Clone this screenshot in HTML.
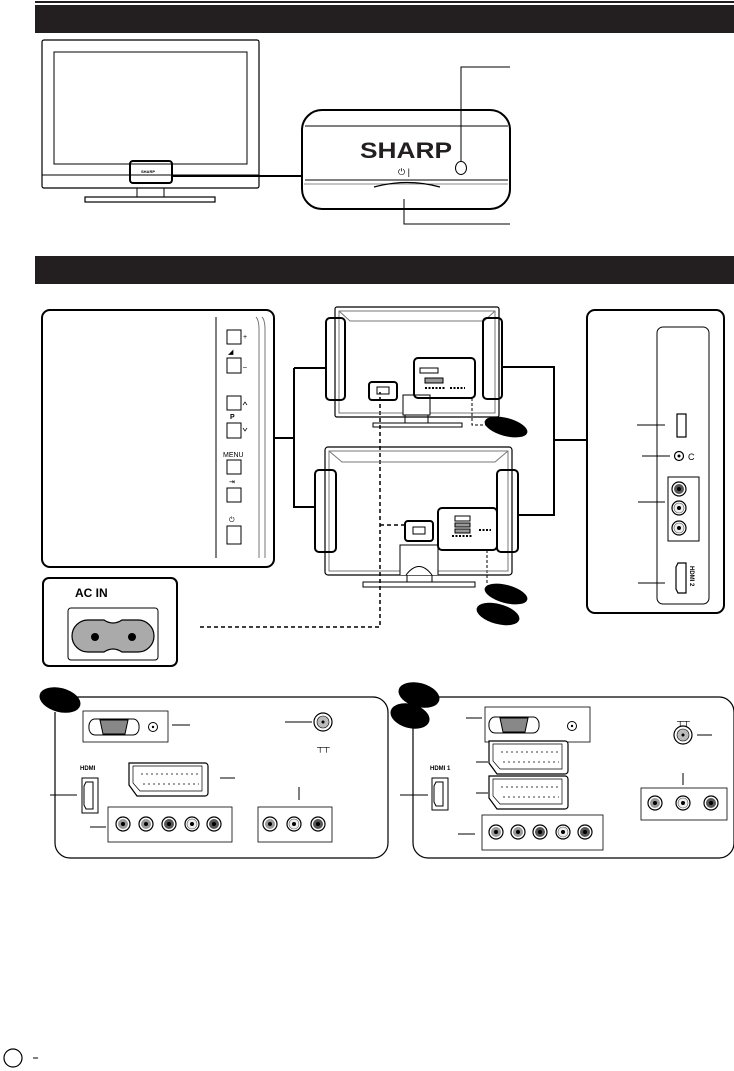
<!DOCTYPE html>
<html><head><meta charset="utf-8"><style>
html,body{margin:0;padding:0;background:#fff}
svg{display:block}
text{font-family:"Liberation Sans",sans-serif}
</style></head><body>
<svg width="734" height="1071" viewBox="0 0 734 1071" xmlns="http://www.w3.org/2000/svg">
<defs>
<g id="rca"><circle r="7" fill="#fff" stroke="#000" stroke-width="1.2"/><circle r="5" fill="#999"/><circle r="2" fill="#000"/></g>
<g id="rcad"><circle r="7" fill="#fff" stroke="#000" stroke-width="1.2"/><circle r="5" fill="#555"/><circle r="2" fill="#000"/></g>
<g id="rcaw"><circle r="7" fill="#fff" stroke="#000" stroke-width="1.2"/><circle r="5" fill="#eee" stroke="#555" stroke-width=".6"/><circle r="2" fill="#000"/></g>
<g id="scart"><path d="M0,0 H76 a3,3 0 0 1 3,3 V30 a3,3 0 0 1 -3,3 H8 L0,22 Z" fill="#fff" stroke="#000" stroke-width="1.2"/><path d="M4,3 H73 V28 H11 L4,20 Z" fill="none" stroke="#000" stroke-width=".7"/>
<g fill="none" stroke="#000" stroke-width=".8"><path d="M12,11 h58 M14,21 h56" stroke-dasharray="2,3"/></g></g>
<g id="vga"><path d="M-25,0 a6,7 0 0 1 6,-8 H19 a6,7 0 0 1 6,8 a6,7 0 0 1 -6,8 H-19 a6,7 0 0 1 -6,-8Z" fill="#fff" stroke="#000"/><path d="M-14,-7 H14 L11,7 H-11Z" fill="#888" stroke="#000"/></g>
</defs>
<rect x="35" y="1" width="699" height="2" fill="#231f20"/>
<rect x="35" y="5" width="699" height="28" fill="#231f20"/>
<rect x="35" y="256" width="699" height="28" fill="#231f20"/>

<g fill="none" stroke="#000">
<rect x="42" y="40" width="217" height="148" rx="2" stroke-width="1.2"/>
<rect x="54" y="52" width="193" height="112" stroke-width="1"/>
<line x1="42" y1="175" x2="259" y2="175"/>
<path d="M137,188 V197 M164,188 V197"/>
<rect x="85" y="197" width="130" height="5" stroke-width="1.2"/>
<rect x="130" y="161" width="42" height="22" rx="3" stroke-width="2"/>
<line x1="172" y1="176" x2="302" y2="176" stroke-width="2"/>
<rect x="302" y="110" width="208" height="99" rx="20" stroke-width="2"/>
<line x1="305" y1="126" x2="508" y2="126"/>
<line x1="305" y1="180" x2="508" y2="180"/>
<line x1="304" y1="184" x2="508" y2="184" stroke="#888"/>
<path d="M374,187 Q407,178 440,187" stroke-width="1.2"/>
<ellipse cx="461" cy="168" rx="5.5" ry="6.5"/>
<path d="M461,162 V67 H510 M404,199 V224 H510"/>
</g>
<text x="141" y="173" font-size="4" font-weight="bold">SHARP</text>
<text x="360" y="158" font-size="22" font-weight="bold" fill="#231f20" textLength="92" lengthAdjust="spacingAndGlyphs">SHARP</text>
<text x="398" y="175" font-size="9">⏻ |</text>

<g fill="none" stroke="#000">
<rect x="42" y="310" width="232" height="257" rx="8" stroke-width="2"/>
<line x1="216" y1="317" x2="216" y2="558"/>
<path d="M256,317 Q259,320 259,330 V558 M262,317 Q265,320 265,330 V558" stroke="#777"/>
<rect x="227" y="330" width="14" height="14"/>
<rect x="227" y="358" width="14" height="15"/>
<rect x="227" y="396" width="14" height="14"/>
<rect x="227" y="423" width="14" height="15"/>
<rect x="227" y="460" width="14" height="14"/>
<rect x="227" y="488" width="14" height="14"/>
<rect x="227" y="526" width="14" height="18"/>
<path d="M243,405 l2,-3 l2,3 M243,428 l2,3 l2,-3" stroke-width=".7"/>
</g>
<g font-size="7">
<text x="243" y="339">+</text><text x="228" y="354" font-size="7">◢</text><text x="243" y="369">–</text>
<text x="230" y="419" font-weight="bold">P</text><text x="223" y="457" font-size="7">MENU</text>
<text x="229" y="484">⇥</text><text x="229" y="522">⏻</text>
</g>

<rect x="43" y="578" width="134" height="88" rx="6" fill="none" stroke="#000" stroke-width="2"/>
<text x="75" y="597" font-size="12" font-weight="bold">AC IN</text>
<rect x="68" y="608" width="90" height="52" rx="3" fill="none" stroke="#000"/>
<path d="M88,620 H104 Q113,626 122,620 H138 a16,16 0 0 1 0,32 H122 Q113,646 104,652 H88 a16,16 0 0 1 0,-32Z" fill="#aaa" stroke="#000" stroke-width="1.2"/>
<circle cx="95" cy="637" r="4" fill="#000"/><circle cx="132" cy="637" r="4" fill="#000"/>
<path d="M200,627 H380 V392 M380,525 H405" fill="none" stroke="#000" stroke-width="1.5" stroke-dasharray="4,3"/>

<g fill="none" stroke="#000">
<rect x="335" y="307" width="164" height="110" rx="2" stroke-width="1.2"/>
<path d="M339,311 H495 V413 H339Z M339,311 L350,321 H484 L495,311" stroke="#777"/>
<rect x="373" y="423" width="89" height="4"/>
<rect x="405" y="415" width="23" height="8"/>
<rect x="403" y="395" width="27" height="20" fill="#fff"/>
<rect x="326" y="318" width="19" height="82" rx="4" stroke-width="2"/>
<rect x="483" y="318" width="19" height="81" rx="4" stroke-width="2"/>
<rect x="414" y="358" width="61" height="40" rx="4" stroke-width="2"/>
<rect x="369" y="382" width="28" height="18" rx="3" stroke-width="2"/>
<rect x="377" y="387" width="12" height="7"/>
<rect x="420" y="368" width="18" height="5"/><rect x="425" y="378" width="18" height="5" fill="#999"/>
<path d="M425,388 h20 M450,388 h15" stroke-dasharray="2,1.5" stroke-width="2"/>
<path d="M294,368 H326 M294,368 V507 H315 M275,438 H294 M502,367 H554 V515 H517 M554,440 H587" stroke-width="2"/>
<path d="M472,398 V425 H487 M487,550 V585" stroke-dasharray="3,2"/>
</g>
<ellipse cx="506" cy="427" rx="22" ry="9" transform="rotate(15 506 427)" fill="#000"/>

<g fill="none" stroke="#000">
<rect x="325" y="447" width="187" height="128" rx="3" stroke-width="1.2"/>
<path d="M329,451 H508 V571 H329Z M329,451 L342,462 H495 L508,451" stroke="#777"/>
<rect x="363" y="582" width="112" height="5"/>
<rect x="407" y="575" width="25" height="7"/>
<path d="M400,575 V545 H438 V575" fill="#fff"/>
<path d="M406,575 Q419,558 432,575"/>
<rect x="315" y="470" width="21" height="82" rx="4" stroke-width="2"/>
<rect x="497" y="470" width="21" height="82" rx="4" stroke-width="2"/>
<rect x="438" y="508" width="59" height="42" rx="4" stroke-width="2"/>
<rect x="405" y="521" width="28" height="20" rx="3" stroke-width="2"/>
<rect x="413" y="527" width="12" height="7"/>
<rect x="455" y="516" width="15" height="5"/><rect x="455" y="523" width="15" height="4" fill="#999"/><rect x="455" y="529" width="15" height="4" fill="#999"/>
<path d="M452,536 h20 M479,530 h12" stroke-dasharray="2,1.5" stroke-width="2"/>
</g>
<ellipse cx="506" cy="594" rx="22" ry="9" transform="rotate(15 506 594)" fill="#000"/>
<ellipse cx="498" cy="614" rx="22" ry="10" transform="rotate(15 498 614)" fill="#000"/>

<g fill="none" stroke="#000">
<rect x="587" y="310" width="137" height="303" rx="8" stroke-width="2"/>
<rect x="657" y="327" width="52" height="277" rx="6"/>
<rect x="677" y="414" width="9" height="23" stroke-width="1.2"/>
<path d="M637,425 H665 M642,456 H670 M638,502 H665 M638,583 H665"/>
<circle cx="679" cy="456" r="4.5" stroke-width="1.2"/>
<rect x="668" y="477" width="31" height="64"/>
<path d="M678,563 H686 V593 H678 L676,589 V567Z" stroke-width="1.2"/>
</g>
<circle cx="679" cy="456" r="1.5"/>
<text x="688" y="460" font-size="9">C</text>
<use href="#rcad" x="679" y="489"/><use href="#rcaw" x="679" y="508"/><use href="#rcaw" x="679" y="528"/>
<text x="690" y="566" font-size="6" font-weight="bold" transform="rotate(90 690 566)">HDMI 2</text>

<g fill="none" stroke="#000">
<path d="M56,697 H373 a15,15 0 0 1 15,15 V843 a15,15 0 0 1 -15,15 H70 a15,15 0 0 1 -15,-15 V712" stroke-width="1.2"/>
<rect x="83" y="711" width="85" height="31" stroke-width=".8"/>
<rect x="82" y="778" width="16" height="35"/>
<path d="M86,782 H93 V809 H86 L84,805 V786Z"/>
<rect x="108" y="807" width="124" height="35" stroke-width=".8"/>
<rect x="258" y="807" width="74" height="35" stroke-width=".8"/>
<path d="M172,725 H190 M285,722 H312 M50,795 H77 M220,778 H235 M90,827 H106 M299,787 V800"/>
<circle cx="323" cy="722" r="9" stroke-width="1.2"/>
</g>
<circle cx="323" cy="722" r="6" fill="#bbb" stroke="#000" stroke-width=".6"/><circle cx="323" cy="722" r="1.5"/>
<text x="317" y="750" font-size="9" font-weight="bold">┬┬</text>
<ellipse cx="60" cy="700" rx="21" ry="12" transform="rotate(15 60 700)" fill="#000"/>
<use href="#vga" x="114" y="727"/>
<circle cx="153" cy="727" r="4.5" fill="#fff" stroke="#000"/><circle cx="153" cy="727" r="1.2"/>
<text x="80" y="770" font-size="6" font-weight="bold">HDMI</text>
<use href="#scart" x="129" y="763"/>
<use href="#rca" x="123" y="824"/><use href="#rca" x="146" y="824"/><use href="#rcad" x="169" y="824"/><use href="#rcaw" x="192" y="824"/><use href="#rcad" x="214" y="824"/>
<use href="#rca" x="270" y="824"/><use href="#rcaw" x="294" y="824"/><use href="#rcad" x="318" y="824"/>

<g fill="none" stroke="#000">
<path d="M413,712 V843 a15,15 0 0 0 15,15 H719 a15,15 0 0 0 15,-15 V712 a15,15 0 0 0 -15,-15 H420" stroke-width="1.2"/>
<rect x="485" y="707" width="105" height="35" stroke-width=".8"/>
<rect x="432" y="778" width="16" height="32"/>
<path d="M436,782 H443 V806 H436 L434,802 V786Z"/>
<rect x="482" y="815" width="121" height="35" stroke-width=".8"/>
<rect x="641" y="788" width="86" height="32" stroke-width=".8"/>
<path d="M466,718 H482 M476,762 H488 M476,793 H488 M458,834 H475 M400,795 H428 M697,735 H712 M683,773 V785"/>
<circle cx="683" cy="735" r="9" stroke-width="1.2"/>
</g>
<circle cx="683" cy="735" r="6" fill="#bbb" stroke="#000" stroke-width=".6"/><circle cx="683" cy="735" r="1.5"/>
<text x="677" y="724" font-size="9" font-weight="bold">┬┬</text>
<ellipse cx="419" cy="695" rx="21" ry="12" transform="rotate(15 419 695)" fill="#000"/>
<ellipse cx="410" cy="716" rx="20" ry="12" transform="rotate(15 410 716)" fill="#000"/>
<use href="#vga" x="514" y="725"/>
<circle cx="572" cy="726" r="4.5" fill="#fff" stroke="#000"/><circle cx="572" cy="726" r="1.2"/>
<text x="430" y="770" font-size="6" font-weight="bold">HDMI 1</text>
<use href="#scart" x="489" y="741"/><use href="#scart" x="489" y="776"/>
<use href="#rca" x="496" y="832"/><use href="#rca" x="518" y="832"/><use href="#rcad" x="540" y="832"/><use href="#rcaw" x="563" y="832"/><use href="#rcad" x="585" y="832"/>
<use href="#rca" x="655" y="803"/><use href="#rcaw" x="683" y="803"/><use href="#rcad" x="711" y="803"/>

<circle cx="13" cy="1058" r="9" fill="none" stroke="#000" stroke-width="1.2"/>
<line x1="33" y1="1058" x2="38" y2="1058" stroke="#000"/>
</svg>
</body></html>
